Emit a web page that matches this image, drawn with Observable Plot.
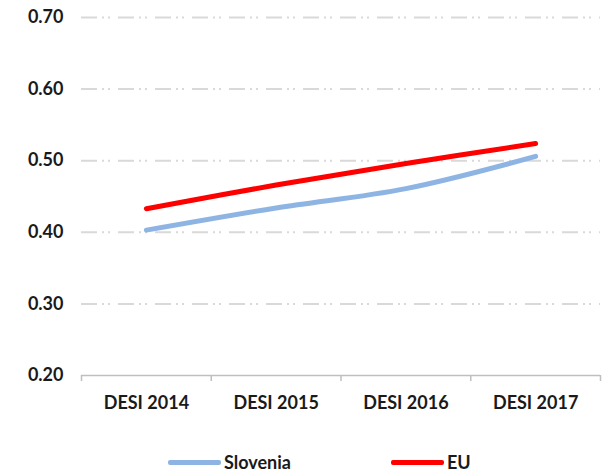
<!DOCTYPE html>
<html><head><meta charset="utf-8">
<script src="https://cdn.jsdelivr.net/npm/d3@7"></script>
<script src="https://cdn.jsdelivr.net/npm/@observablehq/plot@0.6"></script>
<style>
body{margin:0;background:#fff;font-family:Lato,sans-serif;}
#legend{width:609px;height:24px;margin-top:5px;display:flex;align-items:center;padding-left:168px;box-sizing:border-box;font-size:18px;line-height:20px;font-weight:bold;color:#1a1a1a;}
.item{display:flex;align-items:center;}
.sw{width:53px;height:5px;border-radius:2px;margin-right:3px;}
</style></head><body>
<div id="chart"></div>
<div id="legend"></div>
<script>
const categories = ["DESI 2014","DESI 2015","DESI 2016","DESI 2017"];
const slovenia = [0.403, 0.434, 0.461, 0.506];
const eu = [0.433, 0.466, 0.496, 0.524];
const yTicks = [0.2, 0.3, 0.4, 0.5, 0.6, 0.7];
const seriesNames = ["Slovenia","EU"];
const seriesColors = ["#8eb4e3","#ff0000"];

const rows = [];
categories.forEach((c,i)=>{
  rows.push({series:"Slovenia", idx:i+0.5, value:slovenia[i]});
  rows.push({series:"EU", idx:i+0.5, value:eu[i]});
});

const plot = Plot.plot({
  width:609, height:445,
  marginLeft:81, marginRight:9, marginTop:17, marginBottom:70,
  style:{fontFamily:"Lato, sans-serif", fontSize:"18px", fontWeight:"bold", color:"#1a1a1a", background:"#fff"},
  x:{type:"linear", domain:[0, categories.length]},
  y:{domain:[0.2, 0.7]},
  color:{domain:seriesNames, range:seriesColors},
  marks:[
    Plot.gridY(yTicks.slice(1), {stroke:"#d9d9d9", strokeOpacity:1, strokeWidth:2, strokeDasharray:"16,5,2,4,2,8"}),
    Plot.ruleY([yTicks[0]], {stroke:"#bfbfbf", strokeWidth:1.5}),
    Plot.axisX(d3.range(categories.length+1), {tickSize:6, tickFormat:()=>"", stroke:"#bfbfbf", strokeWidth:1.5, label:null}),
    Plot.axisX(categories.map((c,i)=>i+0.5), {tickSize:0, tickPadding:21, tickFormat:(d)=>categories[Math.floor(d)], label:null}),
    Plot.axisY(yTicks, {tickSize:0, tickPadding:18, tickFormat:d3.format(".2f"), label:null}),
    Plot.line(rows, {x:"idx", y:"value", z:"series", stroke:"series", strokeWidth:5, curve:"catmull-rom"})
  ]
});
document.getElementById("chart").appendChild(plot);

const legend = document.getElementById("legend");
seriesNames.forEach((name,i)=>{
  const item = document.createElement("div");
  item.className = "item";
  if (i>0) item.style.marginLeft = "100px";
  const sw = document.createElement("span");
  sw.className = "sw";
  sw.style.background = seriesColors[i];
  const t = document.createElement("span");
  t.textContent = name;
  item.appendChild(sw); item.appendChild(t);
  legend.appendChild(item);
});
</script>
</body></html>
